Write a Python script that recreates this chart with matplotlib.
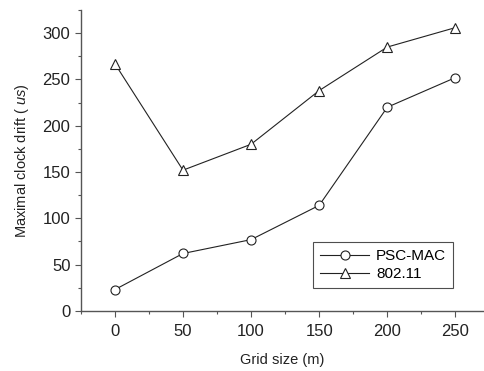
import matplotlib
matplotlib.use("Agg")
import matplotlib.pyplot as plt
from matplotlib.ticker import MultipleLocator

plt.rcParams['font.family'] = ['Liberation Sans', 'DejaVu Sans']
plt.rcParams['mathtext.fontset'] = 'custom'
plt.rcParams['mathtext.it'] = 'Liberation Sans:italic'
plt.rcParams['mathtext.rm'] = 'Liberation Sans'

grid_size = [0, 50, 100, 150, 200, 250]
psc_mac = [23, 62, 77, 114, 220, 252]
ieee80211 = [267, 152, 180, 238, 285, 306]

fig = plt.figure(figsize=(4.84, 3.71), dpi=100)
ax = fig.add_axes([0.167, 0.162, 0.833, 0.811])

ax.plot(grid_size, psc_mac, color='#222222', lw=0.8, marker='o', ms=6.5,
        mfc='white', mec='#222222', mew=0.8, label='PSC-MAC')
ax.plot(grid_size, ieee80211, color='#222222', lw=0.8, marker='^', ms=7.5,
        mfc='white', mec='#222222', mew=0.8, label='802.11')

ax.set_xlim(-25, 271)
ax.set_ylim(0, 325)
ax.xaxis.set_major_locator(MultipleLocator(50))
ax.xaxis.set_minor_locator(MultipleLocator(25))
ax.yaxis.set_major_locator(MultipleLocator(50))
ax.yaxis.set_minor_locator(MultipleLocator(25))
for s in ['top', 'right']:
    ax.spines[s].set_visible(False)
for s in ['left', 'bottom']:
    ax.spines[s].set_color('#555555')
    ax.spines[s].set_linewidth(1.0)
ax.tick_params(which='major', direction='out', length=4.5, width=0.8, colors='#555555',
               labelcolor='#222222', labelsize=12)
ax.tick_params(axis='x', which='major', pad=5)
ax.tick_params(axis='y', which='major', pad=3)
ax.tick_params(which='minor', direction='out', length=2, width=0.8, colors='#555555')

ax.set_xlabel('Grid size (m)', fontsize=10.5, color='#222222', labelpad=10)
ax.set_ylabel(r'Maximal clock drift ( $\mathit{us}$)', fontsize=10.5, color='#222222', labelpad=8)

leg = ax.legend(loc='lower right', bbox_to_anchor=(0.923, 0.076), fontsize=11,
                frameon=True, fancybox=False, edgecolor='#222222',
                handlelength=3.2, borderpad=0.45, labelspacing=0.25,
                handletextpad=0.45, borderaxespad=0)
leg.get_frame().set_linewidth(0.8)

fig.savefig('out.png', dpi=100)
